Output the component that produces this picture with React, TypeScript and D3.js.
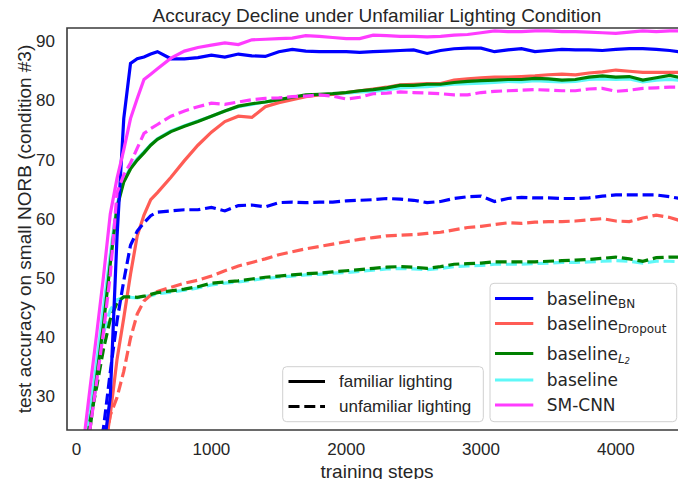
import React from "react";
import * as d3 from "d3";

const steps = [0, 50, 100, 150, 200, 250, 300, 350, 400, 450, 500, 550, 600, 700, 800, 900, 1000, 1100, 1200, 1300, 1400, 1500, 1600, 1700, 1800, 1900, 2000, 2100, 2200, 2300, 2400, 2500, 2600, 2700, 2800, 2900, 3000, 3100, 3200, 3300, 3400, 3500, 3600, 3700, 3800, 3900, 4000, 4100, 4200, 4300, 4400, 4500];

const bnFamiliar = [10, 12, 14, 17, 21, 30, 57, 77, 86.3, 87.1, 87.4, 87.9, 88.3, 87.1, 87.1, 87.3, 87.7, 87.4, 87.9, 87.6, 87.5, 88.3, 88.7, 88.4, 88.3, 88.3, 88.3, 88.2, 88.3, 88.4, 88.5, 88.6, 88.0, 88.5, 88.8, 88.9, 88.9, 88.3, 88.6, 88.8, 88.3, 88.5, 88.7, 88.6, 88.6, 88.5, 88.7, 88.8, 88.8, 88.7, 88.5, 88.2];
const bnUnfamiliar = [8, 11, 15, 19.5, 24.8, 34.2, 42.8, 49.6, 55.6, 58.0, 59.4, 60.6, 61.2, 61.4, 61.6, 61.6, 62.0, 61.4, 62.3, 62.4, 62.1, 62.8, 62.9, 62.8, 62.9, 62.9, 63.1, 63.2, 63.3, 63.5, 63.4, 63.2, 62.8, 63.0, 63.5, 63.8, 63.9, 63.0, 63.5, 63.7, 63.6, 63.6, 63.5, 63.5, 63.6, 63.9, 64.1, 64.1, 64.1, 64.1, 63.8, 63.4];

const dropoutFamiliar = [8, 10, 12, 15, 19.5, 27, 36.3, 43.3, 50.7, 57.2, 60.7, 63.3, 64.5, 67.1, 69.9, 72.5, 74.7, 76.5, 77.4, 77.2, 79.0, 79.7, 80.2, 80.7, 81.0, 81.1, 81.4, 81.7, 82.0, 82.3, 82.7, 82.8, 82.9, 82.9, 83.5, 83.7, 83.9, 84.0, 84.0, 84.1, 84.2, 84.4, 84.5, 84.4, 84.7, 84.9, 85.2, 85.0, 84.8, 84.8, 84.8, 84.8];
const dropoutUnfamiliar = [8, 10, 12, 15, 20, 26.9, 29.9, 34.3, 39.9, 44.0, 46.2, 47.2, 47.8, 48.5, 49.2, 49.7, 50.4, 51.3, 52.1, 52.7, 53.3, 54.0, 54.5, 55.0, 55.4, 55.8, 56.2, 56.6, 56.9, 57.2, 57.3, 57.4, 57.6, 57.8, 58.2, 58.6, 58.8, 59.1, 59.4, 59.3, 59.5, 59.6, 59.6, 59.7, 59.9, 60.1, 59.7, 59.6, 60.2, 60.7, 60.3, 59.6];

const l2Familiar = [10, 17, 24.6, 33.5, 42.3, 52.5, 62, 66.3, 68.5, 70, 71.2, 72.5, 73.5, 74.8, 75.7, 76.5, 77.4, 78.3, 79.1, 79.5, 79.8, 80.2, 80.6, 81.0, 81.1, 81.2, 81.4, 81.7, 81.9, 82.2, 82.6, 82.6, 82.8, 82.8, 83.1, 83.3, 83.4, 83.5, 83.6, 83.6, 83.8, 83.7, 83.5, 83.6, 84.0, 84.2, 84.0, 84.1, 83.5, 83.9, 84.3, 83.8];
const l2Unfamiliar = [10, 18, 25.9, 31.8, 38.1, 43.1, 45.9, 46.9, 46.9, 46.8, 47.0, 47.3, 47.6, 47.9, 48.2, 48.6, 49.2, 49.4, 49.6, 49.9, 50.2, 50.4, 50.6, 50.8, 50.9, 51.1, 51.3, 51.5, 51.7, 51.9, 52.0, 51.9, 51.7, 52.0, 52.4, 52.5, 52.6, 52.8, 52.8, 52.8, 52.8, 52.9, 53.0, 53.1, 53.2, 53.4, 53.6, 53.3, 52.9, 53.5, 53.6, 53.6];

const baseFamiliar = [11, 19, 27, 36, 45, 54, 62.5, 66.5, 68.7, 70.2, 71.4, 72.6, 73.6, 74.9, 75.8, 76.6, 77.4, 78.3, 79.0, 79.4, 79.8, 80.2, 80.5, 80.8, 81.0, 81.1, 81.3, 81.5, 81.6, 81.9, 82.2, 82.3, 82.4, 82.6, 82.8, 82.9, 83.0, 83.1, 83.3, 83.2, 83.4, 83.3, 83.2, 83.3, 83.6, 83.7, 83.6, 83.7, 83.2, 83.5, 83.6, 83.4];
const baseUnfamiliar = [12, 20, 28, 35, 40.8, 44.7, 46.4, 46.8, 46.8, 46.7, 46.9, 47.1, 47.4, 47.7, 48.0, 48.4, 48.9, 49.2, 49.4, 49.7, 50.0, 50.2, 50.4, 50.6, 50.7, 50.9, 51.0, 51.2, 51.4, 51.6, 51.7, 51.6, 51.5, 51.7, 52.0, 52.1, 52.2, 52.4, 52.4, 52.4, 52.5, 52.6, 52.7, 52.7, 52.8, 52.9, 53.0, 52.9, 52.6, 52.9, 52.9, 52.8];

const smFamiliar = [12.8, 22, 31.5, 40.8, 50.4, 60.9, 66.9, 71.7, 77.0, 80.4, 83.6, 84.5, 85.4, 87.2, 88.4, 89.0, 89.4, 89.8, 89.5, 90.3, 90.4, 90.5, 90.6, 91.0, 90.9, 90.7, 90.5, 90.5, 91.1, 91.0, 90.9, 90.9, 90.8, 90.9, 91.1, 91.2, 91.5, 91.8, 91.7, 91.7, 91.8, 91.8, 91.7, 91.7, 91.6, 91.5, 91.4, 91.6, 91.8, 91.7, 91.8, 91.8];
const smUnfamiliar = [8, 16, 24.6, 32.8, 41, 50.6, 64.5, 67.5, 69.5, 72, 74.5, 75.3, 76.0, 77.4, 78.3, 79.0, 79.6, 79.4, 79.8, 80.2, 80.4, 80.5, 80.7, 80.8, 81.0, 80.8, 80.3, 80.6, 81.2, 81.3, 81.5, 81.4, 81.3, 81.2, 81.0, 81.0, 81.4, 81.6, 81.7, 81.8, 81.9, 81.8, 81.7, 81.7, 82.0, 82.1, 81.6, 81.8, 82.1, 82.2, 82.3, 82.3];

const xTicks = [0, 1000, 2000, 3000, 4000];
const yTicks = [30, 40, 50, 60, 70, 80, 90];

const W = 678;
const H = 479;
const M = { left: 67, right: 678, top: 28, bottom: 430 };

const series = [
  { key: "base", color: "#5ff8f8", fam: baseFamiliar, unf: baseUnfamiliar },
  { key: "dropout", color: "#ff5c55", fam: dropoutFamiliar, unf: dropoutUnfamiliar },
  { key: "l2", color: "#008000", fam: l2Familiar, unf: l2Unfamiliar },
  { key: "bn", color: "#0000ff", fam: bnFamiliar, unf: bnUnfamiliar },
  { key: "sm", color: "#ff3cff", fam: smFamiliar, unf: smUnfamiliar },
];

export default function App() {
  const x = d3.scaleLinear().domain([-71, 4461]).range([M.left, M.right]);
  const y = d3.scaleLinear().domain([24.4, 92.3]).range([M.bottom, M.top]);
  const line = (vals: number[]) =>
    d3.line<number>().x((_, i) => x(steps[i])).y((v) => y(v))(vals) || "";

  const sans = "'Liberation Sans', Arial, sans-serif";
  const dv = "'DejaVu Sans', sans-serif";
  const textCol = "#262626";

  const colorLegend = [
    { color: "#0000ff", main: "baseline", sub: "BN", y: 298.5, italic: false },
    { color: "#ff5c55", main: "baseline", sub: "Dropout", y: 323.5, italic: false },
    { color: "#008000", main: "baseline", sub: "L2", y: 353.5, italic: true },
    { color: "#5ff8f8", main: "baseline", sub: "", y: 380, italic: false },
    { color: "#ff3cff", main: "SM-CNN", sub: "", y: 405, italic: false },
  ];

  return (
    <svg width={W} height={H} style={{ position: "absolute", left: 0, top: 0, background: "#fff" }}>
      <defs>
        <clipPath id="plotclip">
          <rect x={M.left} y={M.top} width={M.right - M.left} height={M.bottom - M.top} />
        </clipPath>
      </defs>
      <rect x={0} y={0} width={W} height={H} fill="#fff" />
      <g clipPath="url(#plotclip)">
        {series.map((s) => (
          <g key={s.key}>
            <path d={line(s.unf)} fill="none" stroke={s.color} strokeWidth={3.2} strokeDasharray="11,4.8" />
            <path d={line(s.fam)} fill="none" stroke={s.color} strokeWidth={3.2} />
          </g>
        ))}
      </g>
      {/* frame */}
      <path
        d={`M${M.right + 2},${M.top} L${M.left},${M.top} L${M.left},${M.bottom} L${M.right + 2},${M.bottom}`}
        fill="none"
        stroke="#3a3a3a"
        strokeWidth={1.6}
      />
      {/* y ticks */}
      {yTicks.map((t) => (
        <text key={t} x={55} y={y(t)} textAnchor="end" dominantBaseline="central" fontFamily={sans} fontSize={17} fill={textCol}>
          {t}
        </text>
      ))}
      {xTicks.map((t) => (
        <text key={t} x={x(t)} y={449} textAnchor="middle" dominantBaseline="central" fontFamily={sans} fontSize={17} fill={textCol}>
          {t}
        </text>
      ))}
      <text x={377} y={471} textAnchor="middle" dominantBaseline="central" fontFamily={sans} fontSize={19} fill={textCol}>
        training steps
      </text>
      <text
        transform={`translate(24,${(M.top + M.bottom) / 2}) rotate(-90)`}
        textAnchor="middle"
        dominantBaseline="central"
        fontFamily={sans}
        fontSize={19}
        fill={textCol}
      >
        test accuracy on small NORB (condition #3)
      </text>
      <text x={377} y={15} textAnchor="middle" dominantBaseline="central" fontFamily={sans} fontSize={19} fill={textCol}>
        Accuracy Decline under Unfamiliar Lighting Condition
      </text>

      {/* style legend */}
      <rect x={282.7} y={366.7} width={200.6} height={55} rx={4} fill="#fff" fillOpacity={0.85} stroke="#d0d0d0" strokeWidth={1} />
      <line x1={288.5} x2={325} y1={381.5} y2={381.5} stroke="#000" strokeWidth={3.2} />
      <line x1={288.5} x2={325} y1={406.5} y2={406.5} stroke="#000" strokeWidth={3.2} strokeDasharray="11,4.8" />
      <text x={339} y={381.5} dominantBaseline="central" fontFamily={sans} fontSize={17} fill={textCol}>
        familiar lighting
      </text>
      <text x={339} y={406.5} dominantBaseline="central" fontFamily={sans} fontSize={17} fill={textCol}>
        unfamiliar lighting
      </text>

      {/* color legend */}
      <rect x={490} y={283.3} width={186.7} height={138.4} rx={4} fill="#fff" fillOpacity={0.85} stroke="#d0d0d0" strokeWidth={1} />
      {colorLegend.map((c) => (
        <g key={c.main + c.sub + c.y}>
          <line x1={495} x2={533.3} y1={c.y} y2={c.y} stroke={c.color} strokeWidth={3.2} />
          <text x={546.7} y={c.y} dominantBaseline="central" fontFamily={dv} fontSize={17} fill={textCol}>
            {c.main}
            {c.sub && !c.italic && (
              <tspan fontSize={12} dy={5}>
                {c.sub}
              </tspan>
            )}
            {c.italic && (
              <>
                <tspan fontSize={12} dy={5} fontStyle="italic">
                  L
                </tspan>
                <tspan fontSize={8.5} dy={2} fontStyle="italic">
                  2
                </tspan>
              </>
            )}
          </text>
        </g>
      ))}
    </svg>
  );
}
